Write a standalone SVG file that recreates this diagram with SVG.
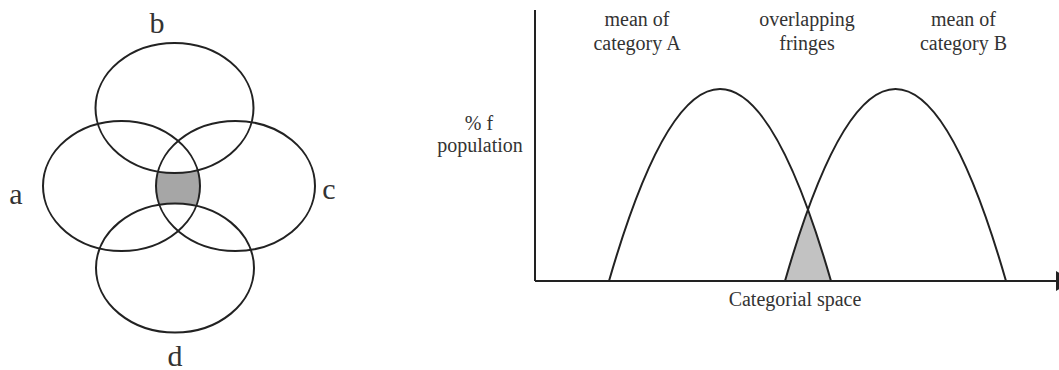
<svg xmlns="http://www.w3.org/2000/svg" width="1059" height="370" viewBox="0 0 1059 370">
<style>
.ln{fill:none;stroke:#222;stroke-width:2}
.t{font-family:"Liberation Serif","Times New Roman",serif;fill:#333;text-anchor:middle}
.big{font-size:30px}
.sm{font-size:20px}
</style>
<defs>
<clipPath id="clipA"><ellipse cx="121.5" cy="186" rx="78.5" ry="65"/></clipPath>
<clipPath id="clipCurveB"><path d="M785 281 Q895.5 -103 1006 281 Z"/></clipPath>
</defs>
<g id="venn">
<g id="shade-venn">
<ellipse clip-path="url(#clipA)" cx="235.5" cy="186" rx="79.5" ry="65" fill="#a6a6a6"/>
<ellipse cx="174.5" cy="108" rx="79" ry="65" fill="#fff"/>
<ellipse cx="175" cy="268" rx="79" ry="64.5" fill="#fff"/>
</g>
<g id="set-a"><ellipse class="ln" cx="121.5" cy="186" rx="78.5" ry="65"/><text class="t big" x="16" y="204">a</text></g>
<g id="set-b"><ellipse class="ln" cx="174.5" cy="108" rx="79" ry="65"/><text class="t big" x="157" y="33">b</text></g>
<g id="set-c"><ellipse class="ln" cx="235.5" cy="186" rx="79.5" ry="65"/><text class="t big" x="329" y="199">c</text></g>
<g id="set-d"><ellipse class="ln" cx="175" cy="268" rx="79" ry="64.5"/><text class="t big" x="175" y="366">d</text></g>
</g>
<g id="chart">
<g id="shade-overlap"><path d="M609 281 Q720 -103 831 281 Z" fill="#c2c2c2" clip-path="url(#clipCurveB)"/></g>
<g id="axes">
<line class="ln" x1="535" y1="10" x2="535" y2="281"/>
<line class="ln" x1="535" y1="281" x2="1058" y2="281"/>
<polygon points="1056,271 1074,281 1056,291" fill="#222"/>
</g>
<g id="curve-a"><path class="ln" d="M609 281 Q720 -103 831 281"/></g>
<g id="curve-b"><path class="ln" d="M785 281 Q895.5 -103 1006 281"/></g>
<g id="labels">
<text class="t sm" x="637" y="26">mean of</text>
<text class="t sm" x="637" y="50">category A</text>
<text class="t sm" x="807" y="26">overlapping</text>
<text class="t sm" x="807" y="50">fringes</text>
<text class="t sm" x="963.5" y="26">mean of</text>
<text class="t sm" x="963.5" y="50">category B</text>
<text class="t sm" x="479" y="130">% f</text>
<text class="t sm" x="480" y="152">population</text>
<text class="t sm" x="795" y="306">Categorial space</text>
</g>
</g>
</svg>
